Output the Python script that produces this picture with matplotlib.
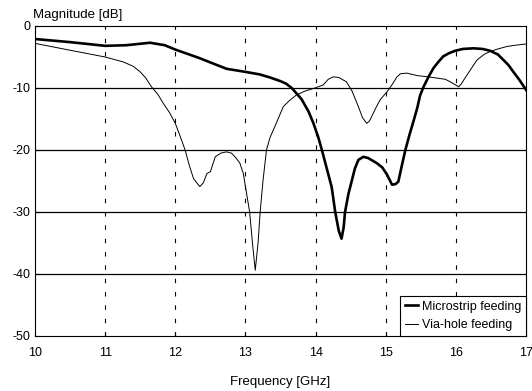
import matplotlib
matplotlib.use('Agg')
import matplotlib.pyplot as plt

# microstrip feeding (thick line)
micro_f = [10.0, 10.5, 11.0, 11.3, 11.64, 11.85, 12.0, 12.2, 12.35, 12.55, 12.73, 13.0,
           13.2, 13.35, 13.5, 13.58, 13.66, 13.8, 13.9, 13.97, 14.04, 14.09, 14.16, 14.23,
           14.28, 14.33, 14.37, 14.40, 14.42, 14.47, 14.52, 14.56, 14.61, 14.68, 14.75,
           14.87, 14.95, 15.02, 15.09, 15.14, 15.18, 15.23, 15.28, 15.34, 15.4, 15.45,
           15.49, 15.54, 15.61, 15.68, 15.75, 15.82, 15.9, 15.99, 16.1, 16.25, 16.38,
           16.49, 16.6, 16.68, 16.75, 16.82, 16.9, 16.96, 17.0]
micro_db = [-2.1, -2.6, -3.2, -3.1, -2.7, -3.1, -3.8, -4.6, -5.2, -6.1, -6.9, -7.4,
            -7.8, -8.3, -8.9, -9.3, -10.0, -11.8, -13.8, -15.7, -18.0, -20.0, -23.0, -26.0,
            -30.0, -33.0, -34.3, -32.5, -30.0, -27.0, -24.8, -23.0, -21.6, -21.1, -21.3,
            -22.1, -22.8, -24.0, -25.6, -25.5, -25.1, -22.5, -20.0, -17.5, -15.2, -13.2,
            -11.2, -9.8, -8.2, -6.8, -5.8, -4.9, -4.4, -4.0, -3.7, -3.6, -3.7,
            -4.0, -4.6, -5.5, -6.3, -7.4, -8.6, -9.6, -10.3]

# via-hole feeding (thin line)
via_f = [10.0, 10.45, 11.0, 11.26, 11.4, 11.5, 11.58, 11.66, 11.75, 11.83, 11.92, 12.0,
         12.07, 12.14, 12.2, 12.26, 12.3, 12.35, 12.4, 12.45, 12.5, 12.57, 12.65, 12.73,
         12.8, 12.86, 12.92, 12.97, 13.0, 13.06, 13.1, 13.14, 13.18, 13.21, 13.25, 13.3,
         13.35, 13.42, 13.54, 13.63, 13.73, 13.85, 13.99, 14.11, 14.18, 14.25, 14.33,
         14.44, 14.52, 14.61, 14.67, 14.73, 14.77, 14.8, 14.86, 14.92, 15.02, 15.1,
         15.16, 15.21, 15.3, 15.45, 15.6, 15.73, 15.85, 15.92, 15.98, 16.04, 16.08,
         16.13, 16.2, 16.3, 16.4, 16.49, 16.6, 16.73, 16.85, 17.0]
via_db = [-2.8, -3.8, -5.0, -5.8, -6.5, -7.4, -8.4, -9.8, -11.0, -12.5, -14.0, -15.7,
          -17.8, -20.0, -22.5, -24.6, -25.2, -25.9, -25.3, -23.8, -23.5, -21.1, -20.5, -20.3,
          -20.5, -21.2, -22.1, -23.8, -25.9, -30.0, -35.0, -39.4, -35.0, -30.0, -25.0, -20.0,
          -18.0, -16.2, -13.0, -12.0, -11.1, -10.5, -10.0, -9.5, -8.6, -8.2, -8.3,
          -9.0, -10.5, -13.0, -14.8, -15.7, -15.3, -14.6, -13.2, -11.9, -10.6, -9.3,
          -8.2, -7.7, -7.6, -8.0, -8.2, -8.4, -8.6, -9.0, -9.4, -9.8, -9.3,
          -8.4, -7.2, -5.5, -4.6, -4.1, -3.7, -3.3, -3.1, -2.9]

x_ticks = [10, 11, 12, 13, 14, 15, 16, 17]
y_ticks = [0, -10, -20, -30, -40, -50]

plt.rcParams['font.family'] = ['Liberation Sans', 'DejaVu Sans']
plt.rcParams['axes.unicode_minus'] = False

fig = plt.figure(figsize=(5.32, 3.91), dpi=100)
ax = fig.add_axes([35 / 532, 1 - 336 / 391, 491 / 532, 310 / 391])

# grid: dashed verticals, solid horizontals
for xv in x_ticks[1:-1]:
    ax.axvline(xv, color='black', lw=0.8, dashes=(4, 8), zorder=1)
for yv in y_ticks[1:-1]:
    ax.axhline(yv, color='black', lw=0.9, zorder=1)

ax.plot(micro_f, micro_db, color='black', lw=1.9, label='Microstrip feeding', zorder=3)
ax.plot(via_f, via_db, color='black', lw=0.7, label='Via-hole feeding', zorder=2)

ax.set_xlim(10, 17)
ax.set_ylim(-50, 0)
ax.set_xticks(x_ticks)
ax.set_yticks(y_ticks)
ax.tick_params(direction='in', length=3, width=0.8, labelsize=9)
ax.tick_params(axis='x', pad=8)
ax.tick_params(axis='y', pad=3)
for s in ax.spines.values():
    s.set_linewidth(0.8)

ax.text(-0.005, 1.015, 'Magnitude [dB]', transform=ax.transAxes, ha='left', va='bottom', fontsize=9.5)
ax.set_xlabel('Frequency [GHz]', fontsize=9.5, labelpad=12)

leg = ax.legend(loc='lower right', borderaxespad=0, fancybox=False, framealpha=1,
                edgecolor='black', fontsize=9, handlelength=1.0, handletextpad=0.3,
                labelspacing=0.5, borderpad=0.4)
leg.get_frame().set_linewidth(0.8)

fig.savefig('out.png', dpi=100)
